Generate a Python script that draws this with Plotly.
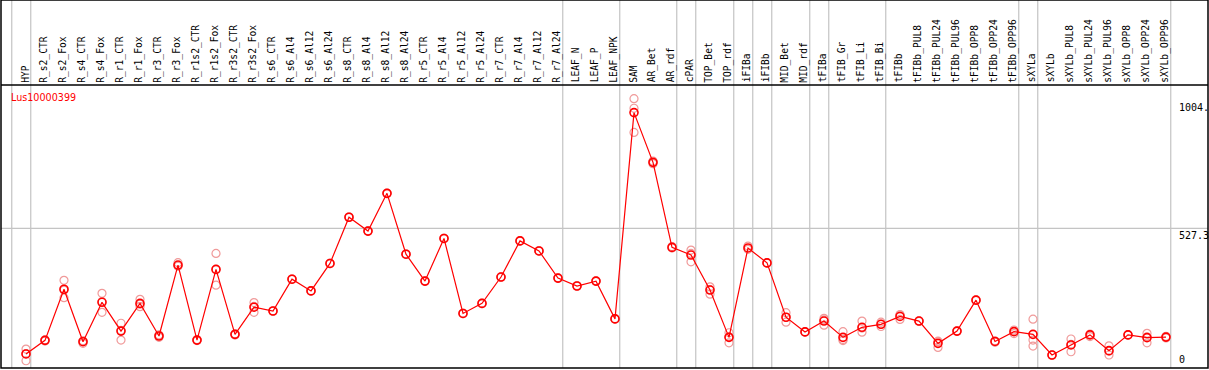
import plotly.graph_objects as go

# ---------------- data ----------------
gene_id = "Lus10000399"

categories = [
    "HYP", "R_s2_CTR", "R_s2_Fox", "R_s4_CTR", "R_s4_Fox", "R_r1_CTR", "R_r1_Fox",
    "R_r3_CTR", "R_r3_Fox", "R_r1s2_CTR", "R_r1s2_Fox", "R_r3s2_CTR", "R_r3s2_Fox",
    "R_s6_CTR", "R_s6_Al4", "R_s6_Al12", "R_s6_Al24", "R_s8_CTR", "R_s8_Al4",
    "R_s8_Al12", "R_s8_Al24", "R_r5_CTR", "R_r5_Al4", "R_r5_Al12", "R_r5_Al24",
    "R_r7_CTR", "R_r7_Al4", "R_r7_Al12", "R_r7_Al24", "LEAF_N", "LEAF_P", "LEAF_NPK",
    "SAM", "AR_Bet", "AR_rdf", "cPAR", "TOP_Bet", "TOP_rdf", "iFIBa", "iFIBb",
    "MID_Bet", "MID_rdf", "tFIBa", "tFIB_Gr", "tFIB_Li", "tFIB_Bi", "tFIBb",
    "tFIBb_PUL8", "tFIBb_PUL24", "tFIBb_PUL96", "tFIBb_OPP8", "tFIBb_OPP24",
    "tFIBb_OPP96", "sXYLa", "sXYLb", "sXYLb_PUL8", "sXYLb_PUL24", "sXYLb_PUL96",
    "sXYLb_OPP8", "sXYLb_OPP24", "sXYLb_OPP96",
]

mean_values = [
    65, 115, 303, 110, 255, 149, 251, 131, 392, 116, 376, 137, 237,
    223, 340, 297, 398, 568, 517, 656, 432, 333, 490, 214, 251,
    348, 481, 444, 344, 315, 333, 194,
    953, 770, 457, 429, 300, 126, 455, 400, 200, 146,
    186, 126, 163, 174, 203, 186, 104, 149, 263, 111, 147,
    137, 61, 98, 135, 77, 135, 125, 127,
]

replicate_values = [
    [83, 66, 40], [117, 113, 115], [336, 272, 300], [104, 113, 112], [288, 218, 258],
    [178, 116, 152], [266, 239, 248], [135, 126, 132], [401, 388, 390], [118, 114, 116],
    [435, 318, 376], [139, 135, 137], [254, 218, 240],
    [224, 222], [341, 339], [298, 296], [399, 397], [569, 567], [518, 516],
    [657, 655], [433, 431], [334, 332], [491, 489], [215, 213], [252, 250],
    [349, 347], [482, 480], [445, 443], [345, 343], [316, 314], [334, 332], [195, 193],
    [1004.4, 969, 880], [775, 765, 770], [460, 455], [447, 404, 435], [312, 285, 302],
    [143, 106, 128], [462, 450], [401, 399], [217, 182, 200], [147, 145],
    [196, 171, 190], [147, 114, 118], [186, 145, 160], [182, 166, 174], [208, 192, 210],
    [187, 185], [110, 89, 112], [150, 148], [264, 262], [113, 108], [153, 140, 148],
    [193, 116, 94], [62, 60], [120, 73, 100], [138, 129], [95, 61, 75], [136, 134],
    [141, 106, 128], [130, 124],
]

# indices after which a vertical separator is drawn (-1 = before first sample)
group_ends = [-1, 0, 28, 31, 34, 35, 37, 38, 39, 41, 42, 45, 52, 53, 60]

y_tick_labels = ["1004.", "527.3", "0"]

# ---------------- geometry ----------------
W, H = 1209, 370
ML, MR, MT, MB = 1, 1, 85, 2
plot_w = W - ML - MR
plot_h = H - MT - MB
x0_px, step_px = 26.0, 19.0           # pixel position of first sample, spacing
zero_px = 371.6                       # pixel row of value 0 (just below frame)

xs = list(range(len(categories)))
x_range = [(ML - x0_px) / step_px, (ML + plot_w - x0_px) / step_px]

max_rep = max(max(r) for r in replicate_values)
y_max = 1.05 * max_rep
scale = (zero_px - MT) / y_max
y_bottom = y_max - plot_h / scale
top_paper = 1 + MT / plot_h

# ---------------- traces ----------------
rep_x, rep_y = [], []
for i, reps in enumerate(replicate_values):
    for v in reps:
        rep_x.append(i)
        rep_y.append(v)

fig = go.Figure()
fig.add_trace(go.Scatter(
    x=rep_x, y=rep_y, mode="markers",
    marker=dict(symbol="circle-open", size=8, color="#f09a9a", line=dict(width=1.2)),
    hoverinfo="skip", showlegend=False,
))
fig.add_trace(go.Scatter(
    x=xs, y=mean_values, mode="lines+markers",
    line=dict(color="#ff0000", width=1.2),
    marker=dict(symbol="circle-open", size=8, color="#ff0000", line=dict(width=1.6)),
    text=categories, showlegend=False,
))

shapes = []
for g in group_ends:
    shapes.append(dict(type="line", xref="x", yref="paper", x0=g + 0.25, x1=g + 0.25,
                       y0=0, y1=top_paper, line=dict(color="#c4c4c4", width=1.2), layer="below"))
shapes.append(dict(type="line", xref="paper", yref="y", x0=0, x1=1, y0=y_max / 2, y1=y_max / 2,
                   line=dict(color="#c4c4c4", width=1.2), layer="below"))
# frame
shapes.append(dict(type="rect", xref="paper", yref="paper", x0=0, x1=1, y0=0, y1=top_paper,
                   line=dict(color="black", width=1.5)))
shapes.append(dict(type="line", xref="paper", yref="paper", x0=0, x1=1, y0=1, y1=1,
                   line=dict(color="black", width=1.5)))

annotations = []
for i, name in enumerate(categories):
    annotations.append(dict(
        x=i - 0.04, xref="x", y=1 + 1.5 / plot_h, yref="paper",
        text=name, textangle=-90, showarrow=False,
        xanchor="center", yanchor="bottom",
        font=dict(family="DejaVu Sans Mono", size=9.6, color="black"),
        borderpad=0,
    ))

annotations.append(dict(
    x=(10 - ML) / plot_w, xref="paper", y=1 - 12.5 / plot_h, yref="paper",
    text=gene_id, showarrow=False, xanchor="left", yanchor="middle",
    font=dict(family="DejaVu Sans", size=9.6, color="#ff0000"), borderpad=0,
))

lab_x = (1178 - ML) / plot_w
lab_font = dict(family="DejaVu Sans Mono", size=10, color="black")
annotations.append(dict(x=lab_x, xref="paper", y=max_rep, yref="y", yshift=-2,
                        text=y_tick_labels[0], showarrow=False, xanchor="left", yanchor="top",
                        font=lab_font, borderpad=0))
annotations.append(dict(x=lab_x, xref="paper", y=y_max / 2, yref="y", yshift=-1,
                        text=y_tick_labels[1], showarrow=False, xanchor="left", yanchor="top",
                        font=lab_font, borderpad=0))
annotations.append(dict(x=lab_x, xref="paper", y=0, yref="paper", yshift=2,
                        text=y_tick_labels[2], showarrow=False, xanchor="left", yanchor="bottom",
                        font=lab_font, borderpad=0))

fig.update_layout(
    width=W, height=H,
    margin=dict(l=ML, r=MR, t=MT, b=MB, pad=0),
    paper_bgcolor="white", plot_bgcolor="white",
    xaxis=dict(range=x_range, showgrid=False, zeroline=False, showticklabels=False,
               ticks="", fixedrange=True),
    yaxis=dict(range=[y_bottom, y_max], showgrid=False, zeroline=False,
               showticklabels=False, ticks="", fixedrange=True),
    shapes=shapes, annotations=annotations, showlegend=False,
)

fig.write_html(
    "out.html",
    config={"displayModeBar": False},
    post_script="document.body.style.margin='0';document.body.style.overflow='hidden';",
)
